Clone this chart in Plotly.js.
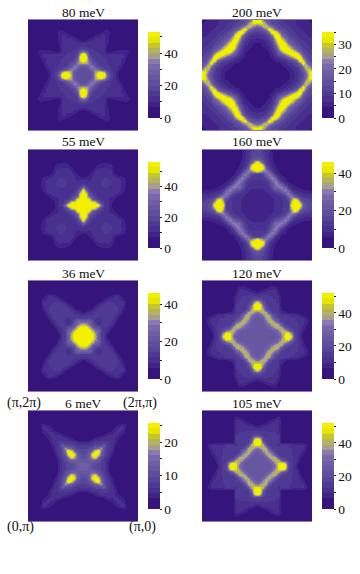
<!DOCTYPE html>
<html>
<head>
<meta charset="utf-8">
<script src="https://cdn.plot.ly/plotly-3.0.1.min.js"></script>
<style>
html,body{margin:0;padding:0;background:#fff}
.hm image{filter:blur(0.7px)}
</style>
</head>
<body>
<div id="plotDiv" style="width:360px;height:574px"></div>
<script>
// one octant per panel: row = |x| step from centre, col = |y| step, mirrored to the full map
let z80 = [
  [20],
  [20, 20],
  [21, 21, 26],
  [24, 25, 32, 36],
  [42, 38, 34, 24, 18],
  [58, 48, 28, 19, 16, 15],
  [60, 50, 22, 16, 15, 14, 14],
  [58, 42, 18, 15, 14, 14, 13, 12],
  [30, 24, 15, 14, 13, 13, 13, 11, 5],
  [15, 14, 13, 13, 13, 13, 12, 11, 6, 4],
  [12, 12, 12, 12, 12, 12, 12, 11, 7, 4, 3],
  [7, 8, 10, 11, 11, 11, 11, 10, 8, 4, 3, 3],
  [4, 4, 6, 9, 10, 10, 10, 10, 9, 4, 3, 3, 3],
  [3, 3, 4, 5, 7, 9, 10, 10, 9, 4, 3, 3, 3, 3],
  [3, 3, 3, 4, 4, 5, 7, 9, 9, 5, 3, 3, 3, 3, 3],
  [3, 3, 3, 3, 3, 3, 4, 5, 7, 4, 3, 3, 3, 3, 3, 3],
  [3, 3, 3, 3, 3, 3, 3, 3, 3, 3, 3, 3, 3, 3, 3, 3, 3],
  [3, 3, 3, 3, 3, 3, 3, 3, 3, 3, 3, 3, 3, 3, 3, 3, 3, 3],
  [3, 3, 3, 3, 3, 3, 3, 3, 3, 3, 3, 3, 3, 3, 3, 3, 3, 3, 3],
];
let z200 = [
  [1],
  [1, 1],
  [1, 1, 1],
  [1, 1, 1, 2],
  [1, 1, 2, 2, 3],
  [2, 2, 2, 3, 3, 4],
  [2, 2, 2, 3, 4, 5, 7],
  [2, 2, 3, 3, 4, 6, 9, 14],
  [3, 3, 3, 4, 5, 7, 11, 18, 27],
  [3, 4, 4, 5, 6, 9, 14, 24, 36, 38],
  [4, 4, 5, 6, 8, 11, 18, 30, 38, 34, 24],
  [5, 5, 6, 7, 9, 13, 24, 37, 36, 26, 19, 16],
  [6, 7, 7, 9, 11, 16, 30, 38, 30, 21, 16, 13, 12],
  [8, 8, 9, 11, 13, 24, 37, 36, 23, 17, 13, 11, 10, 9],
  [10, 11, 12, 14, 24, 37, 36, 25, 18, 14, 11, 10, 9, 8, 8],
  [14, 15, 17, 24, 34, 30, 21, 16, 13, 11, 10, 9, 8, 7, 7, 6],
  [20, 22, 28, 30, 24, 18, 14, 12, 11, 10, 9, 8, 7, 7, 6, 6, 5],
  [30, 32, 30, 22, 16, 13, 12, 11, 10, 9, 8, 8, 7, 6, 6, 5, 5, 5],
  [40, 36, 24, 17, 14, 12, 11, 10, 9, 8, 8, 7, 7, 6, 6, 5, 5, 4, 4],
];
let z55 = [
  [60],
  [60, 60],
  [60, 58, 52],
  [60, 52, 28, 20],
  [60, 48, 22, 17, 14],
  [56, 30, 17, 13, 11, 11],
  [30, 18, 14, 12, 11, 11, 13],
  [15, 13, 12, 11, 11, 12, 14, 15],
  [12, 12, 11, 11, 12, 13, 14, 15, 15],
  [8, 8, 9, 11, 12, 13, 13, 14, 14, 13],
  [4, 5, 7, 10, 12, 13, 13, 13, 13, 12, 8],
  [3, 4, 5, 7, 11, 12, 12, 12, 12, 11, 6, 4],
  [3, 3, 4, 5, 8, 11, 11, 11, 11, 10, 5, 3, 3],
  [3, 3, 3, 4, 5, 8, 9, 9, 10, 8, 4, 3, 3, 3],
  [3, 3, 3, 3, 3, 5, 6, 6, 6, 5, 3, 3, 3, 3, 3],
  [3, 3, 3, 3, 3, 3, 4, 4, 4, 4, 3, 3, 3, 3, 3, 3],
  [3, 3, 3, 3, 3, 3, 3, 3, 3, 3, 3, 3, 3, 3, 3, 3, 3],
  [2, 2, 2, 2, 2, 2, 2, 2, 2, 2, 2, 2, 2, 2, 2, 2, 2, 2],
  [2, 2, 2, 2, 2, 2, 2, 2, 2, 2, 2, 2, 2, 2, 2, 2, 2, 2, 2],
];
let z160 = [
  [6],
  [6, 6],
  [6, 6, 6],
  [7, 7, 7, 7],
  [7, 7, 8, 8, 9],
  [8, 8, 8, 9, 11, 14],
  [9, 9, 9, 10, 12, 18, 26],
  [10, 10, 10, 11, 14, 20, 28, 31],
  [11, 11, 11, 12, 16, 26, 31, 24, 12],
  [12, 12, 13, 15, 25, 31, 25, 12, 8, 6],
  [14, 14, 16, 26, 31, 24, 12, 8, 5, 4, 4],
  [42, 38, 30, 31, 23, 13, 8, 6, 4, 4, 3, 3],
  [52, 50, 44, 24, 13, 9, 7, 5, 4, 3, 3, 3, 3],
  [54, 52, 38, 17, 11, 8, 6, 4, 3, 3, 3, 3, 3, 3],
  [46, 34, 20, 13, 10, 7, 5, 4, 3, 3, 3, 3, 3, 3, 3],
  [22, 20, 16, 12, 9, 6, 5, 4, 3, 3, 3, 3, 3, 3, 3, 3],
  [18, 17, 15, 11, 8, 6, 4, 3, 3, 3, 3, 3, 3, 3, 3, 3, 3],
  [16, 16, 14, 11, 8, 6, 4, 3, 3, 3, 3, 3, 3, 3, 3, 3, 3, 3],
  [15, 15, 13, 10, 8, 5, 4, 3, 3, 3, 3, 3, 3, 3, 3, 3, 3, 3, 3],
];
let z36 = [
  [52],
  [52, 52],
  [50, 50, 48],
  [46, 44, 36, 24],
  [36, 34, 26, 20, 14],
  [24, 24, 24, 18, 11, 10],
  [14, 14, 15, 14, 12, 11, 12],
  [11, 11, 12, 12, 12, 12, 13, 14],
  [5, 7, 9, 11, 12, 12, 13, 14, 14],
  [3, 4, 5, 7, 10, 12, 13, 13, 14, 13],
  [3, 3, 3, 4, 6, 8, 11, 12, 13, 13, 12],
  [3, 3, 3, 3, 4, 5, 7, 9, 12, 12, 11, 10],
  [3, 3, 3, 3, 3, 4, 4, 6, 8, 10, 11, 10, 8],
  [2, 2, 3, 3, 3, 3, 3, 4, 5, 7, 9, 10, 7, 4],
  [2, 2, 2, 2, 3, 3, 3, 3, 3, 4, 4, 5, 4, 3, 3],
  [2, 2, 2, 2, 2, 2, 2, 2, 2, 2, 2, 2, 2, 2, 2, 2],
  [2, 2, 2, 2, 2, 2, 2, 2, 2, 2, 2, 2, 2, 2, 2, 2, 2],
  [2, 2, 2, 2, 2, 2, 2, 2, 2, 2, 2, 2, 2, 2, 2, 2, 2, 2],
  [2, 2, 2, 2, 2, 2, 2, 2, 2, 2, 2, 2, 2, 2, 2, 2, 2, 2, 2],
];
let z120 = [
  [23],
  [23, 23],
  [23, 23, 23],
  [23, 23, 23, 25],
  [23, 23, 25, 28, 33],
  [24, 24, 26, 33, 41, 41],
  [24, 25, 28, 38, 41, 32, 22],
  [25, 28, 34, 41, 38, 24, 18, 15],
  [32, 36, 41, 38, 22, 16, 15, 14, 9],
  [50, 48, 38, 21, 15, 15, 14, 13, 7, 4],
  [56, 52, 28, 17, 15, 14, 14, 13, 6, 4, 4],
  [48, 36, 20, 15, 14, 14, 13, 12, 5, 4, 4, 4],
  [20, 19, 16, 14, 14, 13, 13, 11, 5, 4, 4, 4, 4],
  [14, 14, 14, 14, 13, 13, 12, 10, 5, 4, 4, 4, 4, 4],
  [8, 10, 11, 12, 12, 12, 11, 8, 4, 4, 4, 4, 3, 3, 3],
  [5, 6, 7, 8, 10, 11, 10, 6, 4, 4, 3, 3, 3, 3, 3, 3],
  [4, 5, 5, 6, 7, 8, 8, 5, 4, 3, 3, 3, 3, 3, 3, 3, 3],
  [4, 4, 4, 4, 5, 5, 5, 4, 4, 3, 3, 3, 3, 3, 3, 3, 3, 3],
  [3, 3, 3, 3, 3, 3, 3, 3, 3, 3, 3, 3, 3, 3, 3, 3, 3, 3, 3],
];
let z6 = [
  [15],
  [13, 14],
  [12, 12, 13],
  [10, 11, 14, 20],
  [9, 10, 13, 24, 30],
  [9, 9, 11, 16, 24, 28],
  [8, 8, 9, 10, 13, 15, 18],
  [7, 7, 7, 8, 9, 9, 10, 12],
  [4, 4, 5, 6, 7, 7, 7, 7, 7],
  [2, 2, 2, 3, 4, 5, 6, 6, 6, 6],
  [1, 1, 1, 2, 2, 3, 3, 4, 5, 5, 5],
  [1, 1, 1, 1, 1, 2, 2, 2, 3, 4, 5, 5],
  [1, 1, 1, 1, 1, 1, 1, 2, 2, 2, 4, 5, 5],
  [1, 1, 1, 1, 1, 1, 1, 1, 1, 2, 2, 4, 5, 5],
  [1, 1, 1, 1, 1, 1, 1, 1, 1, 1, 1, 2, 2, 3, 3],
  [1, 1, 1, 1, 1, 1, 1, 1, 1, 1, 1, 1, 1, 1, 1, 1],
  [1, 1, 1, 1, 1, 1, 1, 1, 1, 1, 1, 1, 1, 1, 1, 1, 1],
  [1, 1, 1, 1, 1, 1, 1, 1, 1, 1, 1, 1, 1, 1, 1, 1, 1, 1],
  [1, 1, 1, 1, 1, 1, 1, 1, 1, 1, 1, 1, 1, 1, 1, 1, 1, 1, 1],
];
let z105 = [
  [24],
  [24, 24],
  [24, 24, 24],
  [24, 24, 25, 28],
  [24, 25, 28, 38, 41],
  [26, 28, 36, 41, 33, 24],
  [31, 36, 41, 38, 22, 16, 15],
  [46, 46, 41, 24, 16, 15, 14, 12],
  [56, 52, 26, 16, 14, 14, 14, 13, 6],
  [54, 44, 19, 15, 14, 14, 14, 13, 5, 4],
  [20, 18, 15, 14, 13, 13, 13, 13, 5, 4, 4],
  [14, 14, 14, 14, 13, 13, 13, 12, 5, 4, 4, 4],
  [11, 12, 12, 12, 12, 12, 12, 12, 5, 4, 4, 4, 3],
  [6, 8, 10, 11, 12, 12, 12, 11, 5, 4, 3, 3, 3, 3],
  [4, 5, 6, 7, 9, 11, 11, 11, 5, 4, 3, 3, 3, 3, 3],
  [4, 4, 4, 5, 6, 8, 10, 10, 6, 4, 3, 3, 3, 3, 3, 3],
  [3, 3, 4, 4, 5, 5, 6, 8, 5, 3, 3, 3, 3, 3, 3, 3, 3],
  [3, 3, 3, 3, 4, 4, 4, 4, 4, 3, 3, 3, 3, 3, 3, 3, 3, 3],
  [3, 3, 3, 3, 3, 3, 3, 3, 3, 3, 3, 3, 3, 3, 3, 3, 3, 3, 3],
];

let octants = [z80, z200, z55, z160, z36, z120, z6, z105];
let titles = ['80 meV', '200 meV', '55 meV', '160 meV', '36 meV', '120 meV', '6 meV', '105 meV'];
let zMax = [53, 35, 56, 46, 46, 52, 25.7, 52];
let barTicks = [
  [0, 10, 20, 30, 40, 50],
  [0, 5, 10, 15, 20, 25, 30, 35],
  [0, 10, 20, 30, 40, 50],
  [0, 10, 20, 30, 40],
  [0, 10, 20, 30, 40],
  [0, 10, 20, 30, 40, 50],
  [0, 5, 10, 15, 20, 25],
  [0, 10, 20, 30, 40, 50],
];
let barLabels = [
  ['0', '', '20', '', '40', ''],
  ['0', '', '10', '', '20', '', '30', ''],
  ['0', '', '20', '', '40', ''],
  ['0', '', '20', '', '40'],
  ['0', '', '20', '', '40'],
  ['0', '', '20', '', '40', ''],
  ['0', '', '10', '', '20', ''],
  ['0', '', '20', '', '40', ''],
];
let palette = ['#35157c', '#35157c', '#402288', '#48308e', '#4f3a93', '#574597', '#5e4f9c', '#6657a0',
  '#6e5fa4', '#7868a9', '#8b79b3', '#a8a08c', '#b4b45e', '#c6c62c', '#e6e600', '#f0f000'];

let W = 360, H = 574;
let colLeft = [28, 202];
let rowTop = [20, 150, 281, 411];
let mapSize = 110;
let half = 18;
let serif = '"Liberation Serif", "Times New Roman", serif';

// stepped colour scale
let steps = [];
palette.forEach((c, i) => {
  steps.push([i / palette.length, c]);
  steps.push([(i + 1) / palette.length, c]);
});

function mirror(tri) {
  let out = [];
  for (let y = -half; y <= half; y++) {
    let row = [];
    for (let x = -half; x <= half; x++) {
      let a = Math.abs(x), b = Math.abs(y);
      row.push(tri[Math.max(a, b)][Math.min(a, b)]);
    }
    out.push(row);
  }
  return out;
}

let grid = Array.from({ length: 2 * half + 1 }, (_, i) => i - half);
let data = [];
let layout = {
  width: W, height: H,
  margin: { l: 0, r: 0, t: 0, b: 0 },
  paper_bgcolor: '#fff', plot_bgcolor: '#fff',
  showlegend: false,
  font: { family: serif, color: '#111', size: 13 },
  annotations: [],
};

octants.forEach((tri, k) => {
  let col = k % 2, row = (k - col) / 2;
  let left = colLeft[col], top = rowTop[row];
  let n = k + 1;
  layout['xaxis' + n] = { domain: [left / W, (left + mapSize) / W], range: [-half, half], showticklabels: false, ticks: '',
    showgrid: false, zeroline: false, showline: true, mirror: true, linecolor: '#8c7ab6', linewidth: 1, anchor: 'y' + n };
  layout['yaxis' + n] = { domain: [1 - (top + mapSize) / H, 1 - top / H], range: [-half, half], showticklabels: false, ticks: '',
    showgrid: false, zeroline: false, showline: false, anchor: 'x' + n };
  data.push({
    type: 'heatmap', x: grid, y: grid, z: mirror(tri), xaxis: 'x' + n, yaxis: 'y' + n,
    zmin: 0, zmax: zMax[k], zsmooth: 'best', colorscale: steps,
    colorbar: {
      x: (left + 120) / W, xanchor: 'left', xpad: 0,
      y: 1 - (top + 98) / H, yanchor: 'bottom', ypad: 0,
      len: 86, lenmode: 'pixels', thickness: 12, thicknessmode: 'pixels',
      outlinewidth: 0, tickmode: 'array', tickvals: barTicks[k], ticktext: barLabels[k],
      ticks: 'outside', ticklen: 2, tickwidth: 1, tickcolor: '#222',
      tickfont: { family: serif, size: 13.5, color: '#111' },
    },
  });
  layout.annotations.push({
    xref: 'paper', yref: 'paper', x: (left + mapSize / 2) / W, y: 1 - (top - 8) / H,
    text: titles[k], showarrow: false, xanchor: 'center', yanchor: 'middle',
    font: { family: serif, size: 13.5, color: '#111' },
  });
});

// corner labels of the 6 meV map
let cornerText = ['(π,2π)', '(2π,π)', '(0,π)', '(π,0)'];
let cornerX = [24, 140, 20, 142];
let cornerY = [403, 403, 527, 527];
cornerText.forEach((t, i) => {
  layout.annotations.push({
    xref: 'paper', yref: 'paper', x: cornerX[i] / W, y: 1 - cornerY[i] / H,
    text: t, showarrow: false, xanchor: 'center', yanchor: 'middle',
    font: { family: serif, size: 14, color: '#111' },
  });
});

Plotly.newPlot('plotDiv', data, layout, { displayModeBar: false, staticPlot: true });
</script>
</body>
</html>
